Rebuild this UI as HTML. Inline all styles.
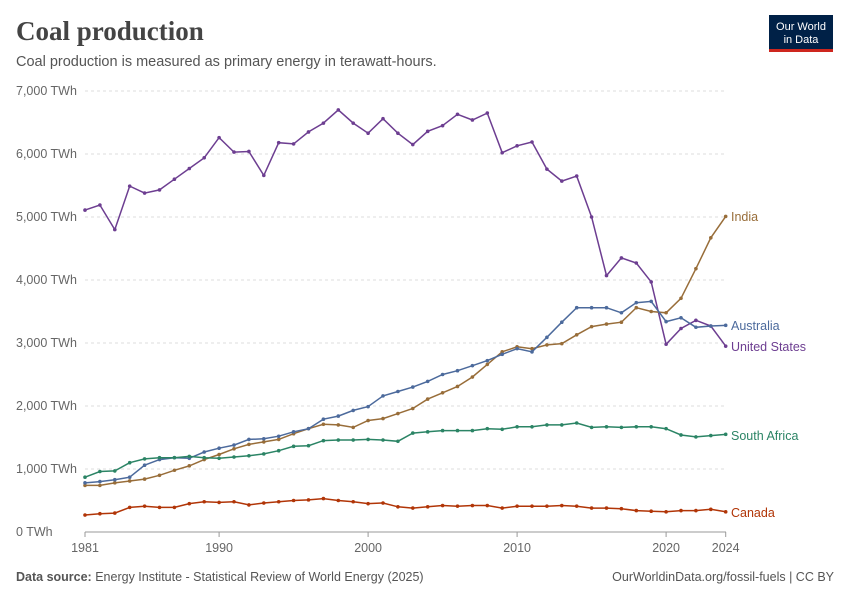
<!DOCTYPE html>
<html><head><meta charset="utf-8"><style>
body{margin:0;background:#fff;width:850px;height:600px;overflow:hidden;font-family:"Liberation Sans",sans-serif}
</style></head><body>
<svg id="s" width="850" height="600" xmlns="http://www.w3.org/2000/svg" font-family="Liberation Sans, sans-serif">
<text x="16" y="40" font-family="Liberation Serif, serif" font-size="27" font-weight="bold" fill="#444">Coal production</text>
<text x="16" y="66" font-size="14.5" fill="#555">Coal production is measured as primary energy in terawatt-hours.</text>
<rect x="769" y="15" width="64" height="35" fill="#002147"/>
<rect x="769" y="49" width="64" height="3" fill="#ce261e"/>
<text x="801" y="30" font-size="11" fill="#fff" text-anchor="middle">Our World</text>
<text x="801" y="43" font-size="11" fill="#fff" text-anchor="middle">in Data</text>
<g id="grid"></g>
<g id="lines"></g>
<text x="16" y="581" font-size="12.5" fill="#555"><tspan font-weight="bold">Data source:</tspan> Energy Institute - Statistical Review of World Energy (2025)</text>
<text x="834" y="581" font-size="12.5" fill="#555" text-anchor="end">OurWorldinData.org/fossil-fuels | CC BY</text>
</svg>
<script>
var NS="http://www.w3.org/2000/svg";
function el(p,t,a,txt){var e=document.createElementNS(NS,t);for(var k in a)e.setAttribute(k,a[k]);if(txt!=null)e.textContent=txt;p.appendChild(e);return e;}
var X=function(y){return 85+(y-1981)*14.9;},Y=function(v){return 532-v*0.063;};
var g=document.getElementById('grid');
for(var i=0;i<=7;i++){var y=Y(i*1000);
 if(i>0)el(g,'line',{x1:85,x2:726,y1:y,y2:y,stroke:'#ddd','stroke-dasharray':'3,3'});
 el(g,'text',{x:16,y:y+4,'font-size':12.5,fill:'#666'},(i==0?'0':i+',000')+' TWh');}
el(g,'line',{x1:85,x2:726,y1:532,y2:532,stroke:'#999'});
[1981,1990,2000,2010,2020,2024].forEach(function(yr){var x=X(yr);el(g,'line',{x1:x,x2:x,y1:532,y2:537,stroke:'#999'});
 el(g,'text',{x:x,y:552,'font-size':12.5,fill:'#666','text-anchor':'middle'},yr);});
var D={
US:['#6d3e91','United States',347,[5110,5190,4800,5490,5380,5430,5600,5770,5940,6260,6030,6040,5660,6180,6160,6350,6490,6700,6490,6330,6560,6330,6150,6360,6450,6630,6540,6650,6020,6130,6190,5760,5570,5650,5000,4070,4350,4270,3970,2980,3230,3360,3270,2950]],
IN:['#986d39','India',217,[740,740,780,810,840,900,980,1050,1150,1230,1320,1390,1430,1470,1560,1640,1710,1700,1660,1770,1800,1880,1960,2110,2210,2310,2460,2660,2860,2940,2910,2970,2990,3130,3260,3300,3330,3560,3500,3480,3710,4180,4670,5010]],
AU:['#4c6a9c','Australia',326,[780,800,830,870,1060,1150,1180,1170,1270,1330,1380,1470,1480,1520,1590,1640,1790,1840,1930,1990,2160,2230,2300,2390,2500,2560,2640,2720,2820,2910,2860,3090,3330,3560,3560,3560,3480,3640,3660,3340,3400,3250,3270,3280]],
SA:['#2b8465','South Africa',436,[870,960,970,1100,1160,1180,1180,1200,1180,1170,1190,1210,1240,1290,1360,1370,1450,1460,1460,1470,1460,1440,1570,1590,1610,1610,1610,1640,1630,1670,1670,1700,1700,1730,1660,1670,1660,1670,1670,1640,1540,1510,1530,1550]],
CA:['#b13507','Canada',513,[270,290,300,390,410,390,390,450,480,470,480,430,460,480,500,510,530,500,480,450,460,400,380,400,420,410,420,420,380,410,410,410,420,410,380,380,370,340,330,320,340,340,360,320]]};
var L=document.getElementById('lines');
for(var k in D){var d=D[k],pts=d[3].map(function(v,i){return X(1981+i).toFixed(1)+','+Y(v).toFixed(1);});
 el(L,'polyline',{points:pts.join(' '),fill:'none',stroke:d[0],'stroke-width':1.5});
 d[3].forEach(function(v,i){el(L,'circle',{cx:X(1981+i),cy:Y(v),r:1.8,fill:d[0]});});
 el(L,'text',{x:731,y:d[2]+4,'font-size':12.5,fill:d[0]},d[1]);}
</script>
</body></html>
